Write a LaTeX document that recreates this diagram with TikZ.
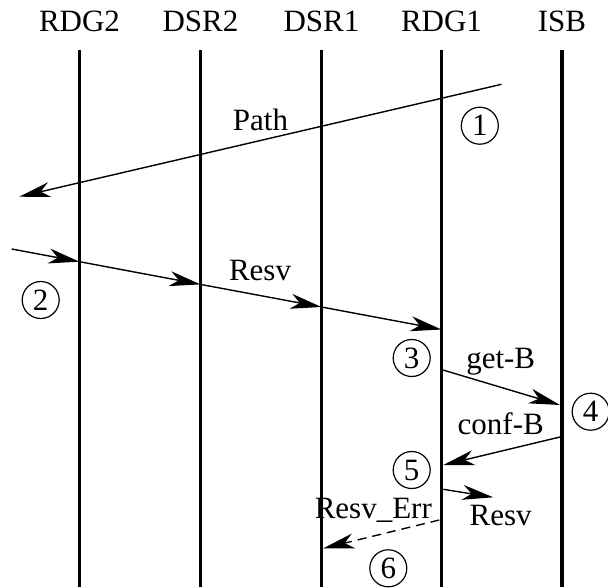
\documentclass[tikz,border=0pt]{standalone}
\usepackage{fontspec}
\setmainfont{Liberation Serif}
\usetikzlibrary{arrows.meta}
\begin{document}
\begin{tikzpicture}[x=1pt, y=-1pt,
  every node/.style={font=\fontsize{31}{36}\selectfont},
  lifeline/.style={line width=3.6pt},
  msg/.style={line width=1.4pt, -{Stealth[length=31pt, width=15pt, inset=9pt]}},
  errmsg/.style={msg, dash pattern=on 9pt off 6pt},
  head/.style={anchor=base},
  lbl/.style={anchor=base},
  step circ/.style={circle, draw, line width=1.2pt, minimum size=37pt, inner sep=0pt}]
\useasboundingbox (0,0) rectangle (608,587);

% lifeline heads
\node[head] (hRDG2) at (79.5,31.7) {RDG2};
\node[head] (hDSR2) at (200.5,31.7) {DSR2};
\node[head] (hDSR1) at (321.5,31.7) {DSR1};
\node[head] (hRDG1) at (441.5,31.7) {RDG1};
\node[head] (hISB)  at (562,31.7) {ISB};

% lifelines
\foreach \n/\x in {RDG2/79.5, DSR2/200.5, DSR1/321.5, RDG1/441.5, ISB/562} {
  \coordinate (t\n) at (\x,50);
  \coordinate (b\n) at (\x,587);
  \draw[lifeline] (t\n) -- (b\n);
}

% message end points
\coordinate (pathS) at (501.5,84.3);
\coordinate (pathE) at (19.3,196.7);
\coordinate (resv0) at (11.7,249);
\coordinate (resv1) at (79.5,261.7);
\coordinate (resv2) at (200.5,284.4);
\coordinate (resv3) at (321.5,307);
\coordinate (resv4) at (441.5,329.5);
\coordinate (getS) at (443,370);
\coordinate (getE) at (560,405);
\coordinate (confS) at (560,437);
\coordinate (confE) at (443.3,465);
\coordinate (resvS) at (443.3,489.3);
\coordinate (resvE) at (493.3,497.3);
\coordinate (errS) at (439.3,520);
\coordinate (errE) at (323.3,548.3);

% messages
\draw[msg] (pathS) -- (pathE);
\draw[msg] (resv0) -- (resv1);
\draw[msg] (resv1) -- (resv2);
\draw[msg] (resv2) -- (resv3);
\draw[msg] (resv3) -- (resv4);
\draw[msg] (getS) -- (getE);
\draw[msg] (confS) -- (confE);
\draw[msg] (resvS) -- (resvE);
\draw[errmsg] (errS) -- (errE);

% message labels
\node[lbl] (lPath) at (260.5,130) {Path};
\node[lbl] (lResv) at (260,280) {Resv};
\node[lbl] (lGet) at (500.7,368) {get-B};
\node[lbl] (lConf) at (500.7,434) {conf-B};
\node[lbl] (lResv2) at (500.7,525) {Resv};
\node[lbl] (lErr) at (373.3,518.5) {Resv\_Err};

% numbered steps
\node[step circ] (s1) at (479.8,125.7) {1};
\node[step circ] (s2) at (40.7,300) {2};
\node[step circ] (s3) at (411.7,358) {3};
\node[step circ] (s4) at (590.7,411.7) {4};
\node[step circ] (s5) at (411.7,470) {5};
\node[step circ] (s6) at (388.3,568.3) {6};
\end{tikzpicture}
\end{document}
